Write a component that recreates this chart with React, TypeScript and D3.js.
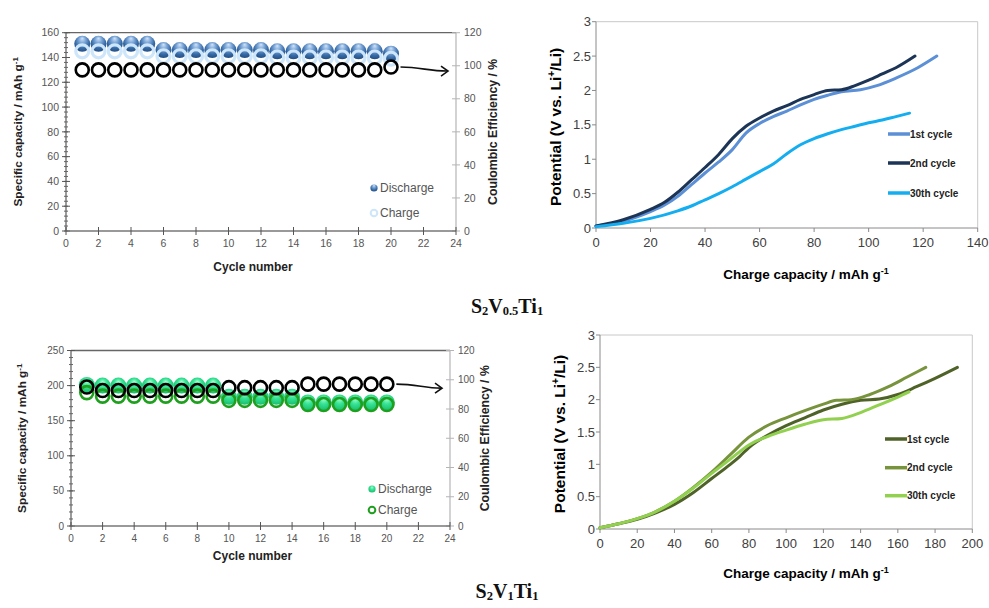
import React from 'react';
import * as d3 from 'd3';

// ---------- cycling data ----------
const cycleNumbers = [1, 2, 3, 4, 5, 6, 7, 8, 9, 10, 11, 12, 13, 14, 15, 16, 17, 18, 19, 20];
const cycleTicks = [0, 2, 4, 6, 8, 10, 12, 14, 16, 18, 20, 22, 24];
const ceTicks = [0, 20, 40, 60, 80, 100, 120];

// S2V0.5Ti1
const dischargeA = [151, 151, 151, 151, 151, 146, 146, 146, 146, 146, 146, 146, 145, 145, 145, 145, 145, 145, 145, 143];
const chargeA = [145, 145, 145, 145, 145, 141, 141, 141, 141, 141, 141, 141, 140, 140, 140, 140, 140, 140, 140, 139];
const ceA = [97.5, 97.5, 97.5, 97.5, 97.5, 97.5, 97.5, 97.5, 97.5, 97.5, 97.5, 97.5, 97.5, 97.5, 97.5, 97.5, 97.5, 97.5, 97.5, 99.2];
const capTicksA = [0, 20, 40, 60, 80, 100, 120, 140, 160];

// S2V1Ti1
const dischargeC = [201, 200, 200, 200, 200, 200, 200, 200, 200, 184, 184, 184, 184, 184, 176, 176, 176, 176, 176, 176];
const chargeC = [190, 185, 185, 185, 185, 185, 185, 185, 185, 179, 179, 179, 179, 179, 173, 173, 173, 173, 173, 173];
const ceC = [95, 92.6, 92.6, 92.6, 92.6, 92.6, 92.6, 92.6, 92.6, 94.6, 94.6, 94.6, 94.6, 94.6, 97, 97, 97, 97, 97, 97];
const capTicksC = [0, 50, 100, 150, 200, 250];

// ---------- voltage profiles ----------
const potTicks = [0, 0.5, 1, 1.5, 2, 2.5, 3];
const potLabels = ['0', '0.5', '1', '1.5', '2', '2.5', '3'];
const capTicksB = [0, 20, 40, 60, 80, 100, 120, 140];
const capTicksD = [0, 20, 40, 60, 80, 100, 120, 140, 160, 180, 200];
const legendNames = ['1st cycle', '2nd cycle', '30th cycle'];

const capB1 = [0, 10, 20, 25, 30, 35, 40, 45, 50, 55, 60, 65, 70, 75, 80, 85, 90, 97, 103, 110, 118, 125];
const potB1 = [0.03, 0.1, 0.24, 0.33, 0.46, 0.63, 0.8, 0.96, 1.14, 1.38, 1.52, 1.62, 1.7, 1.79, 1.87, 1.93, 1.98, 2.01, 2.07, 2.18, 2.33, 2.5];
const capB2 = [0, 10, 20, 25, 30, 35, 40, 45, 50, 55, 60, 65, 70, 75, 80, 85, 90, 95, 100, 105, 110, 117];
const potB2 = [0.03, 0.12, 0.27, 0.37, 0.52, 0.7, 0.88, 1.07, 1.3, 1.48, 1.6, 1.7, 1.78, 1.87, 1.94, 2.0, 2.01, 2.07, 2.15, 2.24, 2.33, 2.5];
const capB30 = [0, 10, 20, 30, 35, 40, 45, 50, 55, 60, 65, 70, 75, 80, 85, 90, 95, 100, 105, 110, 115];
const potB30 = [0.02, 0.07, 0.14, 0.25, 0.32, 0.41, 0.5, 0.6, 0.71, 0.82, 0.93, 1.08, 1.21, 1.3, 1.37, 1.43, 1.48, 1.53, 1.57, 1.62, 1.67];

const capD1 = [0, 10, 20, 30, 40, 50, 60, 70, 75, 80, 90, 100, 110, 120, 130, 140, 150, 160, 170, 180, 192];
const potD1 = [0.02, 0.08, 0.15, 0.25, 0.38, 0.56, 0.78, 1.0, 1.12, 1.26, 1.45, 1.6, 1.72, 1.84, 1.93, 1.99, 2.01, 2.08, 2.2, 2.33, 2.5];
const capD2 = [0, 10, 20, 30, 40, 50, 60, 70, 80, 90, 100, 110, 120, 127, 135, 145, 155, 165, 175];
const potD2 = [0.02, 0.08, 0.16, 0.27, 0.43, 0.64, 0.88, 1.15, 1.42, 1.6, 1.72, 1.83, 1.93, 1.99, 2.0, 2.08, 2.2, 2.35, 2.5];
const capD30 = [0, 10, 20, 30, 40, 50, 60, 70, 80, 90, 100, 110, 120, 130, 140, 150, 160, 166];
const potD30 = [0.02, 0.08, 0.16, 0.27, 0.43, 0.63, 0.86, 1.08, 1.3, 1.43, 1.53, 1.62, 1.69, 1.71, 1.8, 1.92, 2.04, 2.12];

const SANS = 'Liberation Sans, Arial, Helvetica, sans-serif';
const NARROW = 'Liberation Sans Narrow, Arial Narrow, Liberation Sans, Arial, sans-serif';

type CycleProps = {
  x0: number; x1: number; yTop: number; yBot: number;
  capMax: number; capTicks: number[]; capMinor: number;
  discharge: number[]; charge: number[]; ce: number[];
  sphereId: string; chargeColor: string; chargeWidth: number;
  legendX: number; legendY1: number; legendY2: number;
  leftTitleX: number; rightTitleX: number; bottomTitleY: number;
  fontSize: number; chargeOnTop: boolean;
};

function CyclePanel(p: CycleProps) {
  const xs = d3.scaleLinear().domain([0, 24]).range([p.x0, p.x1]);
  const yl = d3.scaleLinear().domain([0, p.capMax]).range([p.yBot, p.yTop]);
  const yr = d3.scaleLinear().domain([0, 120]).range([p.yBot, p.yTop]);
  const minor = d3.range(0, p.capMax + 0.001, p.capMinor);
  const r = 7.5;
  const last = cycleNumbers.length - 1;
  const ax = xs(cycleNumbers[last]) + r + 2;
  const ay = yr(p.ce[last]);
  const midY = (p.yTop + p.yBot) / 2;
  const dis = cycleNumbers.map((c, i) => (
    <circle key={'d' + i} cx={xs(c)} cy={yl(p.discharge[i])} r={r + 0.5} fill={`url(#${p.sphereId})`} />
  ));
  const chg = cycleNumbers.map((c, i) => (
    <circle key={'c' + i} cx={xs(c)} cy={yl(p.charge[i])} r={r - 1} fill="none" stroke={p.chargeColor} strokeWidth={p.chargeWidth} />
  ));
  return (
    <g fontFamily={NARROW}>
      <line x1={p.x0} x2={p.x1} y1={p.yTop} y2={p.yTop} stroke="#666" strokeWidth={1.3} />
      <line x1={p.x1} x2={p.x1} y1={p.yTop} y2={p.yBot} stroke="#b5b5b5" strokeWidth={1.2} />
      {ceTicks.map(t => (
        <g key={'r' + t}>
          <line x1={p.x1 - 4} x2={p.x1 + 4} y1={yr(t)} y2={yr(t)} stroke="#b5b5b5" />
          <text x={p.x1 + 8} y={yr(t)} dy="0.35em" fontSize={p.fontSize} fill="#555">{t}</text>
        </g>
      ))}
      <line x1={p.x0} x2={p.x0} y1={p.yTop} y2={p.yBot} stroke="#666" strokeWidth={1.3} />
      {minor.map(t => (
        <line key={'m' + t} x1={p.x0 - 2} x2={p.x0 + 2} y1={yl(t)} y2={yl(t)} stroke="#666" />
      ))}
      {p.capTicks.map(t => (
        <g key={'l' + t}>
          <line x1={p.x0 - 4} x2={p.x0 + 4} y1={yl(t)} y2={yl(t)} stroke="#555" />
          <text x={p.x0 - 7} y={yl(t)} dy="0.35em" textAnchor="end" fontSize={p.fontSize} fill="#555">{t}</text>
        </g>
      ))}
      <line x1={p.x0} x2={p.x1} y1={p.yBot} y2={p.yBot} stroke="#777" strokeWidth={1.3} />
      {cycleTicks.map(t => (
        <g key={'b' + t}>
          <line x1={xs(t)} x2={xs(t)} y1={p.yBot - 4} y2={p.yBot + 4} stroke="#555" />
          <text x={xs(t)} y={p.yBot + 16} textAnchor="middle" fontSize={p.fontSize} fill="#555">{t}</text>
        </g>
      ))}
      {p.chargeOnTop ? <>{dis}{chg}</> : <>{chg}{dis}</>}
      {cycleNumbers.map((c, i) => (
        <circle key={'e' + i} cx={xs(c)} cy={yr(p.ce[i])} r={r - 1} fill="none" stroke="#000" strokeWidth={2.6} />
      ))}
      <path d={`M${ax},${ay} C${ax + 20},${ay} ${ax + 28},${ay + 4} ${p.x1 - 9},${ay + 4}`} fill="none" stroke="#111" strokeWidth={1.6} />
      <path d={`M${p.x1 - 15},${ay - 1} L${p.x1 - 8},${ay + 4} L${p.x1 - 15},${ay + 9}`} fill="none" stroke="#111" strokeWidth={1.6} />
      <circle cx={p.legendX} cy={p.legendY1} r={3.6} fill={`url(#${p.sphereId})`} />
      <text x={p.legendX + 6} y={p.legendY1} dy="0.35em" fontSize={12} fill="#555">Discharge</text>
      <circle cx={p.legendX} cy={p.legendY2} r={3.3} fill="none" stroke={p.chargeColor} strokeWidth={2} />
      <text x={p.legendX + 6} y={p.legendY2} dy="0.35em" fontSize={12} fill="#555">Charge</text>
      <text transform={`translate(${p.leftTitleX},${midY}) rotate(-90)`} textAnchor="middle" fontFamily={SANS} fontWeight="bold" fontSize={11.8} fill="#222">
        Specific capacity / mAh g<tspan dy={-4} fontSize={8}>-1</tspan>
      </text>
      <text transform={`translate(${p.rightTitleX},${midY}) rotate(-90)`} textAnchor="middle" fontFamily={SANS} fontWeight="bold" fontSize={12.3} fill="#222">
        Coulombic Efficiency / %
      </text>
      <text x={(p.x0 + p.x1) / 2 - 8} y={p.bottomTitleY} textAnchor="middle" fontFamily={SANS} fontWeight="bold" fontSize={12} fill="#222">Cycle number</text>
    </g>
  );
}

type Series = { cap: number[]; pot: number[]; color: string };
type VoltProps = {
  x0: number; x1: number; yTop: number; yBot: number; capMax: number; capTicks: number[];
  series: Series[]; legendX: number; legendY: number[]; titleX: number; titleY: number; titleCx: number;
};

function VoltagePanel(p: VoltProps) {
  const xs = d3.scaleLinear().domain([0, p.capMax]).range([p.x0, p.x1]);
  const ys = d3.scaleLinear().domain([0, 3]).range([p.yBot, p.yTop]);
  const line = d3.line<[number, number]>().x(d => xs(d[0])).y(d => ys(d[1])).curve(d3.curveMonotoneX);
  return (
    <g fontFamily={SANS}>
      <line x1={p.x0} x2={p.x1} y1={p.yTop} y2={p.yTop} stroke="#c8c8c8" />
      <line x1={p.x1} x2={p.x1} y1={p.yTop} y2={p.yBot} stroke="#c8c8c8" />
      <line x1={p.x0} x2={p.x0} y1={p.yTop} y2={p.yBot} stroke="#8a8a8a" />
      <line x1={p.x0} x2={p.x1} y1={p.yBot} y2={p.yBot} stroke="#8a8a8a" />
      {potTicks.map((t, i) => (
        <g key={'y' + t}>
          <line x1={p.x0 - 4} x2={p.x0} y1={ys(t)} y2={ys(t)} stroke="#8a8a8a" />
          <text x={p.x0 - 5} y={ys(t)} dy="0.35em" textAnchor="end" fontSize={13} fill="#404040">{potLabels[i]}</text>
        </g>
      ))}
      {p.capTicks.map(t => (
        <g key={'x' + t}>
          <line x1={xs(t)} x2={xs(t)} y1={p.yBot} y2={p.yBot + 4} stroke="#8a8a8a" />
          <text x={xs(t)} y={p.yBot + 19} textAnchor="middle" fontSize={13} fill="#404040">{t}</text>
        </g>
      ))}
      {p.series.map((s, i) => (
        <path key={'s' + i} d={line(s.cap.map((c, j) => [c, s.pot[j]] as [number, number])) || ''} fill="none" stroke={s.color} strokeWidth={3} strokeLinecap="round" strokeLinejoin="round" />
      ))}
      {p.series.map((s, i) => (
        <g key={'lg' + i}>
          <line x1={p.legendX} x2={p.legendX + 22} y1={p.legendY[i]} y2={p.legendY[i]} stroke={s.color} strokeWidth={3.5} />
          <text x={p.legendX + 22} y={p.legendY[i]} dy="0.35em" fontSize={10} fontWeight="bold" fill="#222">{legendNames[i]}</text>
        </g>
      ))}
      <text transform={`translate(${p.titleX},${(p.yTop + p.yBot) / 2 + 2}) rotate(-90)`} textAnchor="middle" fontWeight="bold" fontSize={15.5} fill="#000">
        Potential (V vs. Li<tspan dy={-6} fontSize={10}>+</tspan><tspan dy={6}>/Li)</tspan>
      </text>
      <text x={p.titleCx} y={p.titleY} textAnchor="middle" fontWeight="bold" fontSize={13.5} fill="#000">
        Charge capacity / mAh g<tspan dy={-5} fontSize={9}>-1</tspan>
      </text>
    </g>
  );
}

function Caption({ x, y, parts }: { x: number; y: number; parts: [string, boolean][] }) {
  return (
    <text x={x} y={y} textAnchor="middle" fontFamily="Liberation Serif, Times New Roman, serif" fontWeight="bold" fontSize={20} fill="#111">
      {parts.map(([s, sub], i) => (
        <tspan key={i} fontSize={sub ? 12.5 : 20} dy={sub ? 1.5 : (i > 0 && parts[i - 1][1] ? -1.5 : 0)}>{s}</tspan>
      ))}
    </text>
  );
}

export default function App() {
  return (
    <svg width={989} height={608} style={{ position: 'absolute', left: 0, top: 0, background: '#fff' }}>
      <defs>
        <radialGradient id="blueBall" cx="50%" cy="40%" r="60%" fx="50%" fy="15%">
          <stop offset="0%" stopColor="#d2e4f7" />
          <stop offset="35%" stopColor="#7ba6d8" />
          <stop offset="75%" stopColor="#3468a4" />
          <stop offset="100%" stopColor="#244f82" />
        </radialGradient>
        <radialGradient id="greenBall" cx="50%" cy="45%" r="60%" fx="50%" fy="25%">
          <stop offset="0%" stopColor="#a6ffd2" />
          <stop offset="45%" stopColor="#36e394" />
          <stop offset="100%" stopColor="#16b86a" />
        </radialGradient>
      </defs>
      <rect x={0} y={0} width={989} height={608} fill="#fff" />
      <CyclePanel x0={66} x1={456} yTop={32.7} yBot={231} capMax={160} capTicks={capTicksA} capMinor={4}
        discharge={dischargeA} charge={chargeA} ce={ceA} sphereId="blueBall" chargeColor="#cde6fa" chargeWidth={3.2}
        legendX={374} legendY1={188} legendY2={213} leftTitleX={22} rightTitleX={497} bottomTitleY={271}
        fontSize={10.5} chargeOnTop={true} />
      <VoltagePanel x0={596} x1={977.7} yTop={21.7} yBot={228} capMax={140} capTicks={capTicksB}
        series={[{ cap: capB1, pot: potB1, color: '#5b8fd6' }, { cap: capB2, pot: potB2, color: '#1c3456' }, { cap: capB30, pot: potB30, color: '#14aef0' }]}
        legendX={888} legendY={[134, 163, 193]} titleX={561} titleY={279} titleCx={806} />
      <Caption x={507} y={313} parts={[['S', false], ['2', true], ['V', false], ['0.5', true], ['Ti', false], ['1', true]]} />
      <CyclePanel x0={71} x1={450} yTop={350.5} yBot={526} capMax={250} capTicks={capTicksC} capMinor={10}
        discharge={dischargeC} charge={chargeC} ce={ceC} sphereId="greenBall" chargeColor="#1ea01e" chargeWidth={2.6}
        legendX={372} legendY1={489} legendY2={510} leftTitleX={26} rightTitleX={489} bottomTitleY={560}
        fontSize={10} chargeOnTop={true} />
      <VoltagePanel x0={600} x1={972.3} yTop={335} yBot={529} capMax={200} capTicks={capTicksD}
        series={[{ cap: capD1, pot: potD1, color: '#4f6228' }, { cap: capD2, pot: potD2, color: '#77933c' }, { cap: capD30, pot: potD30, color: '#92d050' }]}
        legendX={885} legendY={[439, 467.7, 495.7]} titleX={565} titleY={578} titleCx={806} />
      <Caption x={507} y={598} parts={[['S', false], ['2', true], ['V', false], ['1', true], ['Ti', false], ['1', true]]} />
    </svg>
  );
}
